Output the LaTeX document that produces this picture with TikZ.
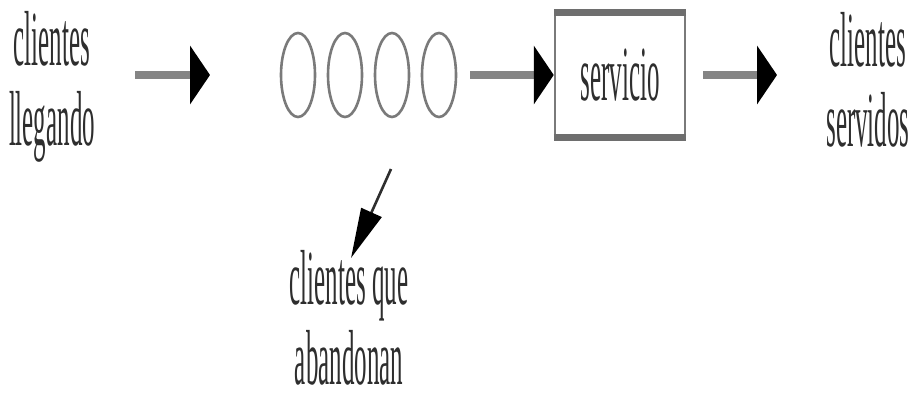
\documentclass[tikz,border=0pt]{standalone}
\usepackage{fontspec}
\usetikzlibrary{arrows.meta,shapes.geometric}
\newfontfamily\narrowserif{Liberation Serif}[FakeStretch=0.32]
\definecolor{ink}{HTML}{2E2E2E}
\definecolor{shaft}{HTML}{858585}
\definecolor{rim}{HTML}{7A7A7A}
\begin{document}
\begin{tikzpicture}[x=1pt,y=-1pt,
  label/.style={font=\narrowserif\fontsize{78}{80}\selectfont, text=ink,
    align=center, inner sep=0pt, anchor=base},
  flow/.style={draw=shaft, line width=8pt,
    -{Triangle[length=20pt,width=58pt,color=black,fill=black]}},
  quit/.style={draw=ink, line width=2.6pt,
    -{Triangle[length=50pt,width=22pt,color=black,fill=black]}},
  slot/.style={draw=rim, line width=2.6pt, ellipse, minimum width=34pt,
    minimum height=84pt, inner sep=0pt},
  counter/.style={draw=rim, line width=2.5pt, minimum width=130pt,
    minimum height=122pt, inner sep=0pt, font=\narrowserif\fontsize{78}{80}\selectfont,
    text=ink}
]
\useasboundingbox (0,0) rectangle (910,392);

% arriving and departing customers (anchored on the last line's baseline)
\node[label] (arrive) at (52,145) {clientes\\llegando};
\node[label] (served) at (868,146) {clientes\\servidos};

% the waiting line
\node[slot] (q1) at (298,75) {};
\node[slot] (q2) at (345,75) {};
\node[slot] (q3) at (392,75) {};
\node[slot] (q4) at (439,75) {};

% server
\node[counter] (srv) at (620,75) {servicio};
\draw[draw=rim!90!black, line width=7pt] (srv.north west) -- (srv.north east);
\draw[draw=rim!90!black, line width=7pt] (srv.south west) -- (srv.south east);

% customers who give up
\node[label] (leave) at (349,384) {clientes que\\abandonan};

% connector end points
\coordinate (a1s) at (135,75);
\coordinate (a1e) at (210,75);
\coordinate (a2s) at (470,75);
\coordinate (a3s) at (703,75);
\coordinate (a3e) at (777,75);
\coordinate (drop) at (391,169);
\coordinate (dropend) at (351,258);

\draw[flow] (a1s) -- (a1e);
\draw[flow] (a2s) -- (srv.west);
\draw[flow] (a3s) -- (a3e);
\draw[quit] (drop) -- (dropend);
\end{tikzpicture}
\end{document}
